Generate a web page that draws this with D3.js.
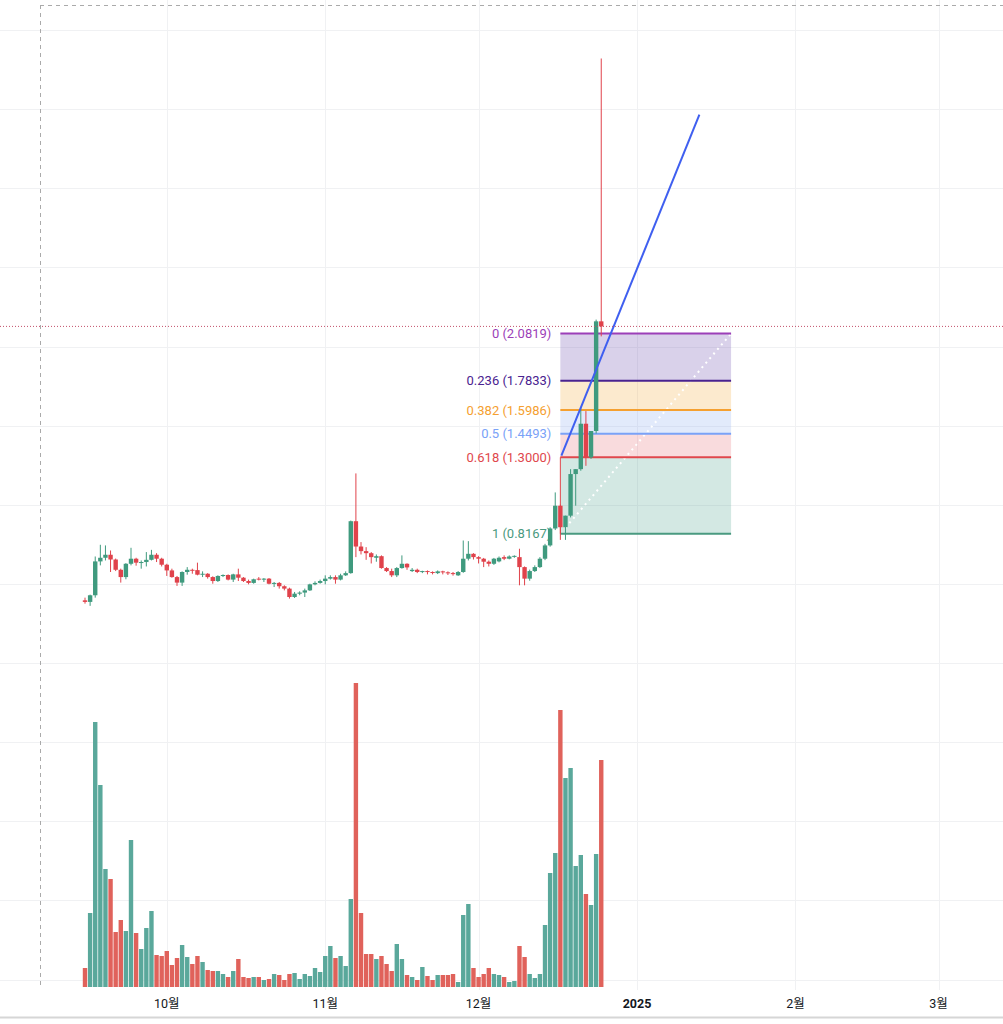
<!DOCTYPE html>
<html><head><meta charset="utf-8">
<script src="https://cdn.jsdelivr.net/npm/d3@7"></script>
<style>body{margin:0;background:#fff;}svg{display:block;font-family:Roboto,"Noto Sans CJK KR","Noto Sans",sans-serif;}</style>
</head><body>
<svg id="chart" width="1003" height="1024"></svg>
<script>
// daily candles from 2024-09-15, [open, high, low, close]
var startDay = new Date(2024, 8, 15);
var ohlc = [
 [.396,.413,.375,.386],[.386,.432,.361,.428],[.428,.673,.413,.642],[.642,.747,.617,.665],[.665,.743,.648,.684],
 [.684,.711,.575,.654],[.654,.660,.581,.589],[.589,.596,.508,.543],[.543,.631,.529,.627],[.627,.728,.617,.659],
 [.659,.665,.615,.634],[.634,.648,.596,.638],[.638,.701,.610,.652],[.652,.715,.648,.684],[.684,.694,.638,.659],
 [.659,.665,.610,.621],[.621,.627,.550,.585],[.585,.596,.539,.543],[.543,.550,.487,.508],[.508,.579,.487,.575],
 [.575,.606,.558,.589],[.589,.596,.564,.587],[.587,.634,.554,.558],[.558,.579,.543,.564],[.564,.568,.533,.543],
 [.543,.548,.501,.518],[.518,.554,.512,.550],[.550,.560,.543,.556],[.556,.560,.522,.527],[.527,.564,.512,.560],
 [.560,.596,.518,.539],[.539,.543,.512,.518],[.518,.527,.497,.506],[.506,.533,.501,.529],[.533,.543,.522,.527],
 [.527,.537,.512,.533],[.533,.537,.497,.501],[.501,.512,.480,.506],[.506,.512,.470,.485],[.485,.491,.459,.470],
 [.470,.476,.407,.417],[.417,.449,.411,.438],[.438,.453,.428,.445],[.445,.470,.417,.459],[.459,.501,.455,.497],
 [.497,.516,.491,.506],[.506,.527,.501,.518],[.518,.554,.497,.533],[.533,.554,.527,.543],[.543,.554,.501,.527],
 [.527,.564,.522,.554],[.554,.579,.550,.568],[.568,.900,.564,.896],[.896,1.198,.669,.736],[.736,.764,.686,.707],
 [.707,.732,.652,.694],[.694,.701,.629,.669],[.665,.686,.640,.675],[.675,.680,.596,.600],[.600,.606,.575,.581],
 [.581,.596,.543,.554],[.554,.606,.543,.600],[.600,.680,.596,.627],[.627,.630,.589,.604],[.581,.600,.575,.589],
 [.589,.596,.568,.575],[.575,.583,.568,.581],[.581,.585,.560,.575],[.575,.579,.560,.573],[.568,.585,.562,.579],
 [.579,.583,.560,.573],[.573,.579,.556,.568],[.568,.575,.552,.562],[.554,.581,.550,.575],[.575,.774,.570,.659],
 [.659,.770,.648,.690],[.690,.694,.654,.669],[.669,.675,.629,.659],[.659,.664,.606,.640],[.640,.648,.610,.627],
 [.627,.664,.620,.659],[.642,.673,.636,.665],[.669,.680,.650,.659],[.659,.680,.655,.673],[.673,.680,.665,.677],
 [.669,.722,.491,.606],[.606,.610,.491,.533],[.533,.590,.520,.581],[.581,.617,.575,.606],[.606,.669,.600,.659],
 [.659,.753,.650,.743],[.743,.858,.735,.850],[.850,1.078,.840,.994],[.994,1.001,.778,.858],[.858,.931,.778,.931],
 [.931,1.225,.920,1.194],[1.194,1.225,.994,1.225],[1.225,1.613,1.215,1.512],[1.512,1.592,1.246,1.299],[1.299,1.466,1.290,1.466],
 [1.466,2.17,1.45,2.159],[2.159,3.82,2.064,2.127]
];
var volume = [19,74,265,202,118,108,55,67,56,147,54,38,59,76,32,31,36,22,29,42,
 30,23,31,25,17,16,16,13,10,16,28,10,9,10,10,7,8,13,12,7,
 13,14,8,13,11,19,15,31,41,29,31,21,88,304,74,33,33,28,31,23,
 16,43,28,12,10,7,20,11,7,12,12,12,13,5,72,83,19,10,13,19,
 13,12,10,5,6,41,30,13,9,13,62,114,134,277,209,219,121,132,93,82,133,227];
var fibRatios = [0, 0.236, 0.382, 0.5, 0.618, 1];
var fibHigh = 2.0819, fibLow = 0.8167;
var fibColors = ["#9c3fb8", "#4a2390", "#f5a030", "#7aa2f7", "#e0474c", "#4a9a80"];
var fibFills = ["rgba(120,90,180,0.28)", "rgba(245,170,60,0.25)", "rgba(140,170,240,0.25)", "rgba(230,110,120,0.25)", "rgba(80,165,145,0.25)"];
var monthTicks = [[new Date(2024,9,1),"10월"],[new Date(2024,10,1),"11월"],[new Date(2024,11,1),"12월"],
 [new Date(2025,0,1),"2025"],[new Date(2025,1,1),"2월"],[new Date(2025,2,1),"3월"]];

var DAY = 864e5;
var svg = d3.select("#chart");
var x = d3.scaleTime()
  .domain([new Date(+startDay - 16.63*DAY), new Date(+startDay + 179.6*DAY)])
  .range([0, 1003]);
var y = d3.scaleLinear().domain([0, 4]).range([663, 30]);
var yv = d3.scaleLinear().domain([0, 310]).range([987, 677]);
var day = function(i){ return new Date(+startDay + i*DAY); };

// grid
var grid = svg.append("g").attr("stroke", "#f0f1f3").attr("stroke-width", 1);
d3.range(-7, 8.5, 0.5).forEach(function(v){
  var yy = Math.round(y(v)) + 0.5;
  if (yy > 10 && yy < 990) grid.append("line").attr("x1", 0).attr("x2", 1003).attr("y1", yy).attr("y2", yy);
});
monthTicks.forEach(function(t){
  var xx = Math.round(x(t[0])) + 0.5;
  grid.append("line").attr("x1", xx).attr("x2", xx).attr("y1", 0).attr("y2", 990);
});

// volume
svg.append("g").selectAll("rect").data(volume).enter().append("rect")
  .attr("x", function(d,i){ return x(day(i)) - 2.2; })
  .attr("width", 4.4)
  .attr("y", function(d){ return yv(d); })
  .attr("height", function(d){ return yv(0) - yv(d); })
  .attr("fill", function(d,i){ return ohlc[i][3] >= ohlc[i][0] ? "#5aa89b" : "#e0625b"; });

// fib fills and lines
var fibX1 = x(day(93)), fibX2 = x(day(126.4));
var fibY = function(r){ return y(fibHigh - r*(fibHigh - fibLow)); };
var fib = svg.append("g");
for (var k = 0; k < fibRatios.length - 1; k++) {
  fib.append("rect").attr("x", fibX1).attr("width", fibX2 - fibX1)
    .attr("y", fibY(fibRatios[k])).attr("height", fibY(fibRatios[k+1]) - fibY(fibRatios[k]))
    .attr("fill", fibFills[k]);
}
fib.append("line").attr("x1", fibX1).attr("x2", fibX1).attr("y1", fibY(0.618)).attr("y2", fibY(1))
  .attr("stroke", "#e0474c").attr("stroke-width", 1);
fib.append("line").attr("x1", x(day(94)) ).attr("y1", fibY(1) - 6).attr("x2", fibX2).attr("y2", fibY(0))
  .attr("stroke", "#fff").attr("stroke-width", 2).attr("stroke-dasharray", "2,4");
fibRatios.forEach(function(r, k){
  var price = fibHigh - r*(fibHigh - fibLow);
  fib.append("line").attr("x1", fibX1).attr("x2", fibX2).attr("y1", fibY(r)).attr("y2", fibY(r))
    .attr("stroke", fibColors[k]).attr("stroke-width", 2);
  fib.append("text").attr("x", fibX1 - 9).attr("y", fibY(r) + 4.5).attr("text-anchor", "end")
    .attr("font-size", 13).attr("fill", fibColors[k])
    .text(r + " (" + price.toFixed(4) + ")");
});

// candles
var up = "#3f9a7e", down = "#e0424b";
var candles = svg.append("g").selectAll("g").data(ohlc).enter().append("g");
candles.append("line")
  .attr("x1", function(d,i){ return x(day(i)); }).attr("x2", function(d,i){ return x(day(i)); })
  .attr("y1", function(d){ return y(d[1]); }).attr("y2", function(d){ return y(d[2]); })
  .attr("stroke", function(d){ return d[3] >= d[0] ? up : down; }).attr("stroke-width", 1);
candles.append("rect")
  .attr("x", function(d,i){ return x(day(i)) - 2.2; }).attr("width", 4.4)
  .attr("y", function(d){ return y(Math.max(d[0], d[3])); })
  .attr("height", function(d){ return Math.max(1, Math.abs(y(d[0]) - y(d[3]))); })
  .attr("fill", function(d){ return d[3] >= d[0] ? up : down; });

// trend line
svg.append("line").attr("x1", x(day(93.2))).attr("y1", y(1.31))
  .attr("x2", x(day(120.2))).attr("y2", y(3.465))
  .attr("stroke", "#3f5ff0").attr("stroke-width", 2);

// last price line
var last = ohlc[ohlc.length - 1][3];
svg.append("line").attr("x1", 0).attr("x2", 1003).attr("y1", y(last)).attr("y2", y(last))
  .attr("stroke", "#c2506a").attr("stroke-width", 1).attr("stroke-dasharray", "1,2");

// borders
svg.append("line").attr("x1", 40.5).attr("x2", 40.5).attr("y1", 5).attr("y2", 985)
  .attr("stroke", "#aaa").attr("stroke-dasharray", "4,4");
svg.append("line").attr("x1", 40).attr("x2", 1003).attr("y1", 5.5).attr("y2", 5.5)
  .attr("stroke", "#aaa").attr("stroke-dasharray", "4,4");
svg.append("line").attr("x1", 0).attr("x2", 1003).attr("y1", 1017.5).attr("y2", 1017.5)
  .attr("stroke", "#d6d6d6").attr("stroke-width", 2);

// x labels
svg.append("g").selectAll("text").data(monthTicks).enter().append("text")
  .attr("x", function(d){ return x(d[0]); }).attr("y", 1008)
  .attr("text-anchor", "middle").attr("font-size", 12.5).attr("fill", "#131722")
  .attr("font-weight", function(d){ return d[1] === "2025" ? "bold" : "normal"; })
  .text(function(d){ return d[1]; });
</script>
</body></html>
